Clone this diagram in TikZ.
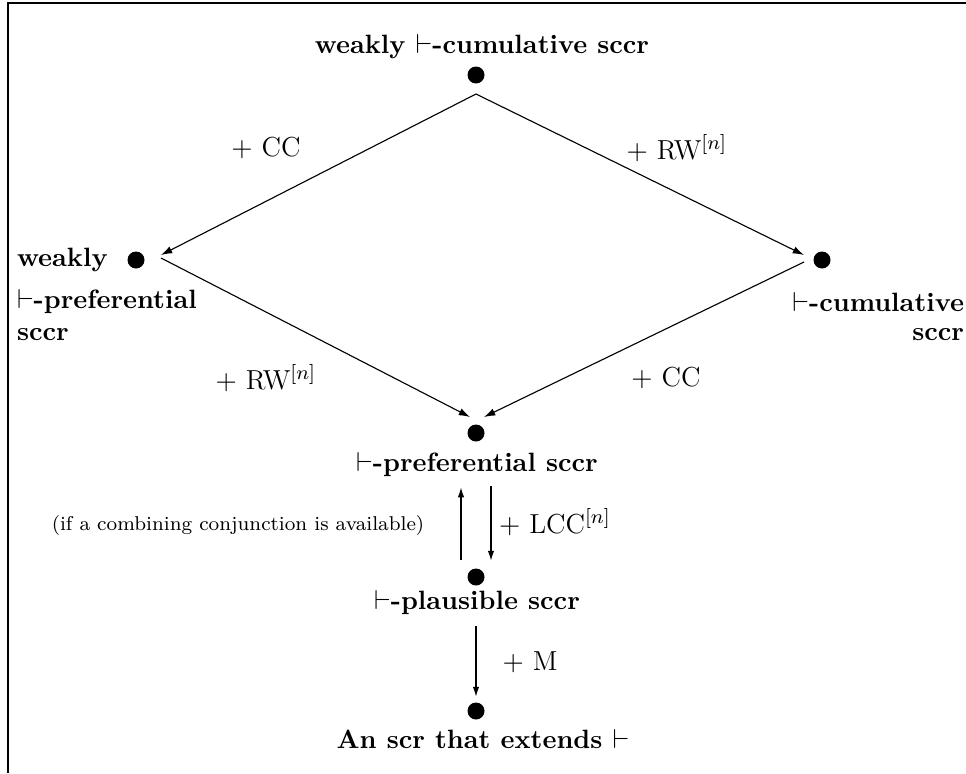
\documentclass[tikz,border=0pt]{standalone}
\usepackage{amsmath,amssymb}
\usepackage{tikz}
\usetikzlibrary{arrows.meta}
\usetikzlibrary{calc}

\begin{document}
\begin{tikzpicture}[x=0.4pt, y=-0.4pt,
        dot/.style={fill, circle, minimum size=6.8pt, inner sep=0},
        lab/.style={font=\fontsize{10.6}{13}\selectfont\bfseries, inner sep=1pt},
        rule/.style={font=\fontsize{11}{13}\selectfont},
        thin arrow/.style={line width=0.45pt, -{Latex[length=4.5pt,width=3pt]}},
        thick arrow/.style={line width=1pt, -{Latex[length=4.5pt,width=2.6pt]}}]
            \useasboundingbox (0,0) rectangle (966,773);
            \draw[line width=0.8pt] (966,3) -- (8,3) -- (8,773);
            % the dots
            \node[dot] (v1) at (476,75) {};
            \node[dot] (v2) at (136,260) {};
            \node[dot] (v3) at (822,260) {};
            \node[dot] (v4) at (476,433) {};
            \node[dot] (v5) at (476,577) {};
            \node[dot] (v6) at (476,711) {};
            % their names
            \node[lab] (l1) at (482,47) {weakly $\vdash$-cumulative sccr};
            \node[lab, anchor=west] (l2a) at (14,260) {weakly};
            \node[lab, anchor=west] (l2b) at (14,302) {$\vdash$-preferential};
            \node[lab, anchor=west] (l2c) at (14,335) {sccr};
            \node[lab, anchor=east] (l3a) at (967,302) {$\vdash$-cumulative};
            \node[lab, anchor=east] (l3c) at (967,335) {sccr};
            \node[lab] (l4) at (477,465) {$\vdash$-preferential sccr};
            \node[lab] (l5) at (477,603) {$\vdash$-plausible sccr};
            \node[lab] (l6) at (483,739) {An scr that extends $\vdash$};
            % the rules
            \node[rule] (r1) at (266,148) {$+$ CC};
            \node[rule] (r2) at (677,148) {$+$ RW$^{[n]}$};
            \node[rule] (r3) at (266,378) {$+$ RW$^{[n]}$};
            \node[rule] (r4) at (666,378) {$+$ CC};
            \node[rule] (r5) at (555,522) {$+$ LCC$^{[n]}$};
            \node[rule] (r6) at (530,662) {$+$ M};
            \node[font=\footnotesize] (c1) at (238,525) {(if a combining conjunction is available)};
            % the arrows
            \draw[thin arrow] ([yshift=-4pt]v1.south) -- ([xshift=6.4pt, yshift=2pt]v2.east);
            \draw[thin arrow] ([yshift=-4pt]v1.south) -- ([xshift=-3.6pt, yshift=2pt]v3.west);
            \draw[thin arrow] ([xshift=6.4pt, yshift=0.8pt]v2.east) -- ([xshift=-2.4pt, yshift=2.8pt]v4.north);
            \draw[thin arrow] ([xshift=-3.6pt, yshift=-0.8pt]v3.west) -- ([xshift=3.2pt, yshift=2.8pt]v4.north);
            \draw[thick arrow] ([xshift=-6pt, yshift=3.2pt]v5.north) -- ([xshift=-6pt, yshift=-2.4pt]l4.south -| v5.north);
            \draw[thick arrow] ([xshift=6pt, yshift=-2.4pt]l4.south -| v5.north) -- ([xshift=6pt, yshift=2.4pt]v5.north);
            \draw[thick arrow] ([yshift=-3.2pt]l5.south -| v6.north) -- ([yshift=1.6pt]v6.north);
        \end{tikzpicture}
\end{document}
